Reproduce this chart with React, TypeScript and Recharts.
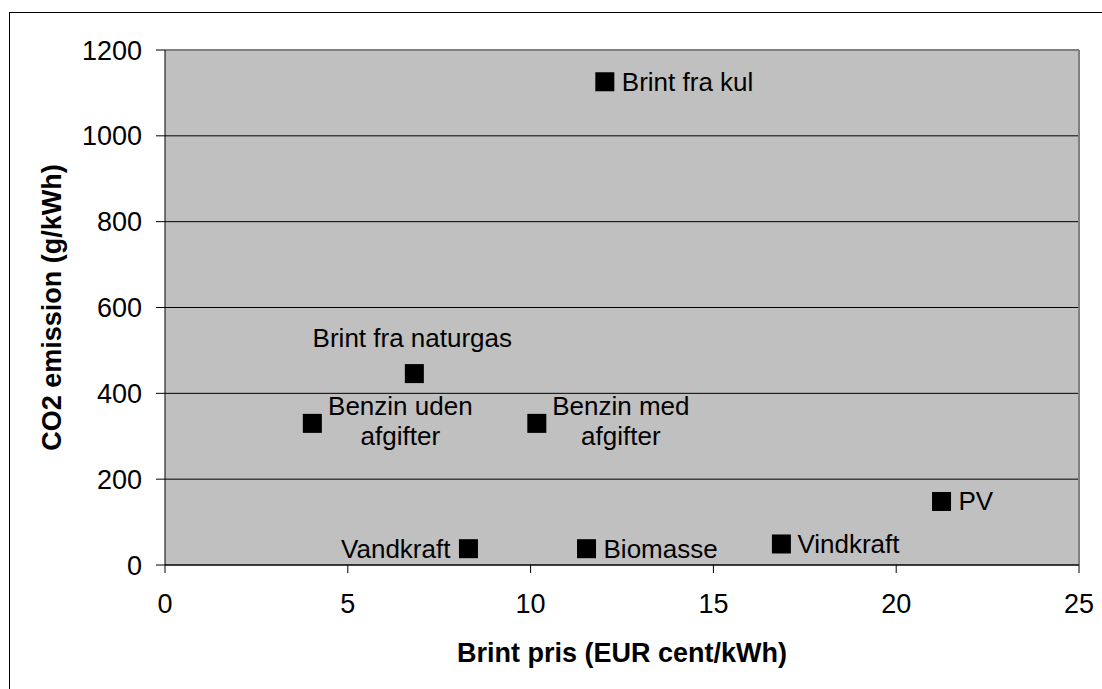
import { ScatterChart, Scatter, XAxis, YAxis, CartesianGrid, ReferenceLine } from "recharts";

// data
const names = [
  "Brint fra kul",
  "Brint fra naturgas",
  "Benzin uden\nafgifter",
  "Benzin med\nafgifter",
  "PV",
  "Vandkraft",
  "Biomasse",
  "Vindkraft",
];
const prices = [12.03, 6.82, 4.03, 10.17, 21.24, 8.3, 11.53, 16.86];
const emissions = [1126, 446, 330, 330, 148, 38, 38, 49];

const xTicks = [0, 5, 10, 15, 20, 25];
const yTicks = [0, 200, 400, 600, 800, 1000, 1200];

const points = names.map((n, i) => ({ name: n, price: prices[i], co2: emissions[i] }));

// where each label sits relative to its marker
const labelPlace: Record<string, { anchor: string; dx: number; dy: number }> = {
  "Brint fra kul": { anchor: "start", dx: 17, dy: 9 },
  "Brint fra naturgas": { anchor: "middle", dx: -2, dy: -27 },
  "Benzin uden\nafgifter": { anchor: "middle", dx: 88, dy: -8 },
  "Benzin med\nafgifter": { anchor: "middle", dx: 84, dy: -8 },
  PV: { anchor: "start", dx: 17, dy: 9 },
  Vandkraft: { anchor: "end", dx: -18, dy: 9 },
  Biomasse: { anchor: "start", dx: 17, dy: 9 },
  Vindkraft: { anchor: "start", dx: 16, dy: 9 },
};

const font = "'Liberation Sans', Arial, sans-serif";

function Marker(props: any) {
  const { cx, cy, payload } = props;
  const p = labelPlace[payload.name];
  const lines = payload.name.split("\n");
  return (
    <g>
      <rect x={cx - 9.5} y={cy - 9.5} width={19} height={19} fill="#000" />
      {lines.map((l: string, i: number) => (
        <text
          key={i}
          x={cx + p.dx}
          y={cy + p.dy + i * 30}
          textAnchor={p.anchor as any}
          fontSize={26}
          fontFamily={font}
          fill="#000"
        >
          {l}
        </text>
      ))}
    </g>
  );
}

export default function App() {
  return (
    <div style={{ position: "absolute", left: 0, top: 0, width: 1102, height: 689, overflow: "hidden", background: "#fff" }}>
      <div
        style={{
          position: "absolute",
          left: 9,
          top: 12,
          width: 1200,
          height: 800,
          border: "1.5px solid #000",
        }}
      />
      <div style={{ position: "absolute", left: 0, top: 0 }}>
        <ScatterChart width={1102} height={689} margin={{ top: 50, right: 23, left: 0, bottom: 0 }}>
          <CartesianGrid vertical={false} stroke="#000" fill="#C0C0C0" fillOpacity={1} />
          <XAxis
            type="number"
            dataKey="price"
            domain={[0, 25]}
            ticks={xTicks}
            interval={0}
            height={124}
            stroke="#000"
            tickSize={8}
            tickMargin={21}
            tick={{ fill: "#000", fontSize: 27, fontFamily: font }}
            label={{
              value: "Brint pris (EUR cent/kWh)",
              position: "insideBottom",
              offset: 27,
              style: { fill: "#000", fontSize: 27, fontWeight: "bold", fontFamily: font },
            }}
          />
          <YAxis
            type="number"
            dataKey="co2"
            domain={[0, 1200]}
            ticks={yTicks}
            interval={0}
            width={165}
            stroke="#000"
            tickSize={9}
            tickMargin={14}
            tick={{ fill: "#000", fontSize: 27, fontFamily: font }}
            label={{
              value: "CO2 emission (g/kWh)",
              angle: -90,
              position: "insideLeft",
              offset: 51,
              style: { textAnchor: "middle", fill: "#000", fontSize: 27, fontWeight: "bold", fontFamily: font },
            }}
          />
          <ReferenceLine y={1200} stroke="#808080" strokeWidth={2} />
          <ReferenceLine x={25} stroke="#808080" strokeWidth={2} />
          <Scatter data={points} shape={Marker} isAnimationActive={false} />
        </ScatterChart>
      </div>
    </div>
  );
}
